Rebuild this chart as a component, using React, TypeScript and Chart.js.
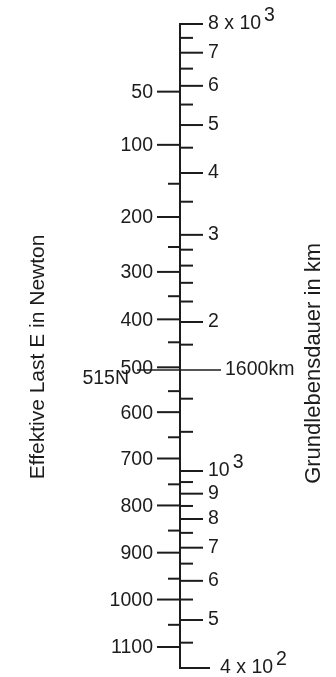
import React, { useEffect, useRef } from "react";
import { Chart, registerables } from "chart.js";

Chart.register(...registerables);

// Right scale: Grundlebensdauer in km (logarithmic)
const kmMin = 400;
const kmMax = 8000;
const kmMajor = [8000, 7000, 6000, 5000, 4000, 3000, 2000, 1000, 900, 800, 700, 600, 500, 400];
const kmMajorLabels = ["8 x 10^3", "7", "6", "5", "4", "3", "2", "10^3", "9", "8", "7", "6", "5", "4 x 10^2"];
const kmMinor = [7500, 6500, 5500, 4500, 3500, 2800, 2600, 2400, 2200, 1800, 1400, 1200, 950, 850, 750, 650, 550, 450];

// Left scale: Effektive Last E in Newton (positions expressed on the km scale)
const loadMajor = [50, 100, 200, 300, 400, 500, 600, 700, 800, 900, 1000, 1100];
const loadMajorKm = [5840, 4560, 3260, 2525, 2025, 1620, 1315, 1060, 852, 684, 550, 441];
const loadMinor = [150, 250, 350, 450, 550, 650, 750, 850, 950, 1050];
const loadMinorKm = [3805, 2835, 2255, 1820, 1450, 1170, 940, 758, 606, 489];

// Reading example
const markerLoad = 515;
const markerKm = 1600;

const leftTitle = "Effektive Last E in Newton";
const rightTitle = "Grundlebensdauer in km";

const FONT = '"Liberation Sans", Arial, Helvetica, sans-serif';
const INK = "#1c1c1c";

function drawLabel(ctx: CanvasRenderingContext2D, text: string, x: number, y: number) {
  const parts = text.split("^");
  ctx.textAlign = "left";
  ctx.textBaseline = "middle";
  ctx.fillText(parts[0], x, y);
  if (parts.length > 1) {
    const w = ctx.measureText(parts[0]).width;
    ctx.fillText(parts[1], x + w + 3, y - 8);
  }
}

const nomogramPlugin = {
  id: "nomogram",
  afterDraw(chart: any) {
    const ctx: CanvasRenderingContext2D = chart.ctx;
    const ys = chart.scales.y;
    const xs = chart.scales.x;
    const axisX = xs.getPixelForValue(180);
    const py = (v: number) => ys.getPixelForValue(v);
    ctx.save();
    ctx.strokeStyle = INK;
    ctx.fillStyle = INK;
    ctx.lineCap = "butt";

    // spine
    ctx.lineWidth = 2;
    ctx.beginPath();
    ctx.moveTo(axisX, py(kmMax) - 1);
    ctx.lineTo(axisX, py(kmMin) + 1);
    ctx.stroke();

    const hline = (x1: number, x2: number, y: number) => {
      ctx.beginPath();
      ctx.moveTo(x1, y);
      ctx.lineTo(x2, y);
      ctx.stroke();
    };

    // right ticks
    kmMajor.forEach((v) => {
      const len = v === kmMin ? 30 : 23;
      hline(axisX, axisX + len, py(v));
    });
    kmMinor.forEach((v) => hline(axisX, axisX + 13, py(v)));

    // left ticks
    loadMajorKm.forEach((v) => hline(axisX - 23, axisX, py(v)));
    loadMinorKm.forEach((v) => hline(axisX - 12, axisX, py(v)));

    // labels
    ctx.font = "19.5px " + FONT;
    kmMajor.forEach((v, i) => {
      const x = v === kmMin ? axisX + 40 : axisX + 28;
      drawLabel(ctx, kmMajorLabels[i], x, py(v));
    });
    ctx.textAlign = "right";
    ctx.textBaseline = "middle";
    loadMajor.forEach((l, i) => {
      ctx.fillText(String(l), axisX - 27, py(loadMajorKm[i]) + 1);
    });

    // marker line
    const my = py(markerKm);
    ctx.lineWidth = 1.5;
    hline(axisX - 43, axisX + 41, my);
    ctx.textAlign = "right";
    ctx.textBaseline = "top";
    ctx.fillText(markerLoad + "N", axisX - 51, my - 1);
    ctx.textAlign = "left";
    ctx.textBaseline = "middle";
    ctx.fillText(markerKm + "km", axisX + 45, my);

    // titles
    ctx.textAlign = "center";
    ctx.textBaseline = "middle";
    ctx.font = "21px " + FONT;
    ctx.save();
    ctx.translate(xs.getPixelForValue(38), py(1700));
    ctx.rotate(-Math.PI / 2);
    ctx.fillText(leftTitle, 0, 0);
    ctx.restore();
    ctx.font = "22px " + FONT;
    ctx.save();
    ctx.translate(xs.getPixelForValue(314), py(1650));
    ctx.rotate(-Math.PI / 2);
    ctx.fillText(rightTitle, 0, 0);
    ctx.restore();

    ctx.restore();
  },
};

export default function App() {
  const ref = useRef<HTMLCanvasElement | null>(null);
  useEffect(() => {
    if (!ref.current) return;
    const chart = new Chart(ref.current, {
      type: "scatter",
      data: { datasets: [] },
      options: {
        animation: false,
        responsive: false,
        devicePixelRatio: 1,
        layout: { padding: { top: 24, bottom: 9, left: 0, right: 0 } },
        plugins: { legend: { display: false }, tooltip: { enabled: false } },
        scales: {
          x: { type: "linear", display: false, min: 0, max: 336 },
          y: { type: "logarithmic", display: false, min: kmMin, max: kmMax },
        },
      },
      plugins: [nomogramPlugin],
    } as any);
    return () => chart.destroy();
  }, []);
  return (
    <div style={{ position: "fixed", left: 0, top: 0, width: 336, height: 677, background: "#fff" }}>
      <canvas ref={ref} width={336} height={677} style={{ display: "block", width: 336, height: 677 }} />
    </div>
  );
}
